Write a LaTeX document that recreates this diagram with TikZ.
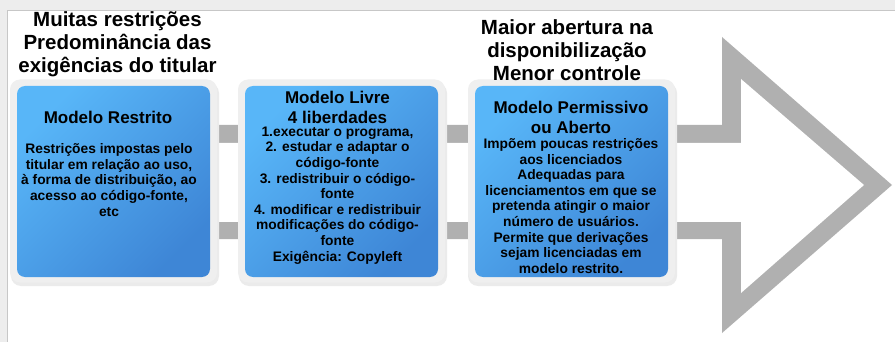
\documentclass[tikz,border=0pt]{standalone}
\usepackage{fontspec}
\setmainfont{Liberation Sans}
\begin{document}
\begin{tikzpicture}[x=1pt,y=-1pt,
  frame/.style={fill=framegray, rounded corners=10pt},
  bluebox/.style={rounded corners=8pt, left color=blueA, right color=blueB, shading angle=45},
  ttl/.style={align=center, font=\fontsize{20.5}{23}\selectfont\bfseries, inner sep=0pt},
  hdr/.style={align=center, font=\fontsize{17}{20}\selectfont\bfseries, inner sep=0pt},
  body/.style={align=center, font=\fontsize{13.8}{15.6}\selectfont\bfseries, inner sep=0pt}]
\definecolor{blueA}{HTML}{58B6F8}
\definecolor{blueB}{HTML}{3E86D6}
\definecolor{framegray}{HTML}{EFEFEF}
\definecolor{arrowgray}{HTML}{B0B0B0}
\useasboundingbox (0,0) rectangle (895,342);
% page background and border
\fill[black!7] (0,0) rectangle (895,342);
\fill[white] (7,10) rectangle (895,342);
\draw[black!22, line width=0.8pt] (7,342) -- (7,10) -- (895,10);
% big outline arrow
\fill[arrowgray] (30,125) -- (722,125) -- (722,37) -- (892,185) -- (722,333) -- (722,239) -- (30,239) -- cycle;
\fill[white] (30,143) -- (741,143) -- (741,79) -- (864,185) -- (741,293) -- (741,222) -- (30,222) -- cycle;
% frames
\fill[black!8, rounded corners=10pt] (11,83) rectangle (219,286);
\fill[black!8, rounded corners=10pt] (239,83) rectangle (447,286);
\fill[black!8, rounded corners=10pt] (468,83) rectangle (677,286);
\node[frame, minimum width=207pt, minimum height=203pt, inner sep=0pt] (f1) at (113.5,181) {};
\node[frame, minimum width=207pt, minimum height=203pt, inner sep=0pt] (f2) at (341.5,181) {};
\node[frame, minimum width=207pt, minimum height=203pt, inner sep=0pt] (f3) at (571.5,181) {};
% blue boxes
\node[bluebox, minimum width=193pt, minimum height=191pt, inner sep=0pt] (b1) at (113.5,181.5) {};
\node[bluebox, minimum width=193pt, minimum height=191pt, inner sep=0pt] (b2) at (341.5,181.5) {};
\node[bluebox, minimum width=193pt, minimum height=191pt, inner sep=0pt] (b3) at (571.5,181.5) {};
% titles
\node[ttl] (t1) at (117.5,44) {Muitas restrições\\Predominância das\\exigências do titular};
\node[ttl] (t3) at (567,50) {Maior abertura na\\disponibilização\\Menor controle};
% box 1 text
\node[hdr] (h1) at (108,117) {Modelo Restrito};
\node[body] (x1) at (109,180) {Restrições impostas pelo\\titular em relação ao uso,\\à forma de distribuição, ao\\acesso ao código-fonte,\\etc};
% box 2 text
\node[hdr] (h2) at (337.5,107) {Modelo Livre\\4 liberdades};
\node[body] (x2) at (337.5,195.5) {1.executar o programa, \\ 2. estudar e adaptar o\\código-fonte\\3. redistribuir o código-\\fonte\\4. modificar e redistribuir\\modificações do código-\\fonte\\Exigência: Copyleft};
% box 3 text
\node[hdr] (h3) at (571,117) {Modelo Permissivo\\ou Aberto};
\node[body] (x3) at (571,206) {Impõem poucas restrições\\aos licenciados\\Adequadas para\\licenciamentos em que se\\pretenda atingir o maior\\número de usuários.\\Permite que derivações\\sejam licenciadas em\\modelo restrito.};
\end{tikzpicture}
\end{document}
